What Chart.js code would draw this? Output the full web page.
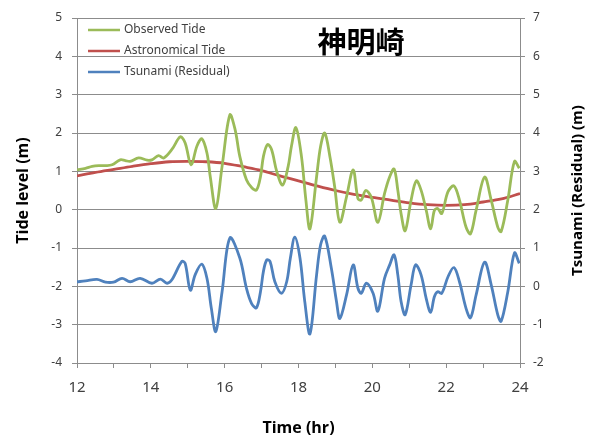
<!DOCTYPE html>
<html>
<head>
<meta charset="utf-8">
<script src="https://cdn.jsdelivr.net/npm/chart.js@4"></script>
<style>
  html, body { margin: 0; background: #fff; }
  #wrap { width: 595px; height: 439px; }
</style>
</head>
<body>
<div id="wrap"><canvas id="tideChart" width="595" height="439"></canvas></div>
<script>
/* 神明崎 tide record, 12-24 hr */
const CHART_TITLE = '神明崎';
const LABELS = ['Observed Tide', 'Astronomical Tide', 'Tsunami (Residual)'];

// observed tide (left axis, m)
const obsTimes = [12.0, 12.23, 12.41, 12.59, 12.77, 12.95, 13.17, 13.31, 13.44, 13.67, 13.9, 14.03, 14.21, 14.35, 14.57, 14.8, 14.93, 15.09, 15.25, 15.38, 15.52, 15.61, 15.76, 15.93,
  16.14, 16.28, 16.41, 16.59, 16.73, 16.86, 16.97, 17.05, 17.16, 17.27, 17.41, 17.57, 17.72, 17.81, 17.93, 18.08, 18.2, 18.31, 18.49, 18.6, 18.71, 18.85, 18.98, 19.12, 19.3, 19.48, 19.61, 19.7, 19.82, 19.97,
  20.15, 20.33, 20.47, 20.59, 20.69, 20.78, 20.89, 21.05, 21.19, 21.32, 21.46, 21.58, 21.68, 21.77, 21.88, 22.05, 22.21, 22.36, 22.54, 22.66, 22.81, 23.04, 23.22, 23.4, 23.49, 23.67, 23.85, 23.98];
const obsValues = [1.04, 1.08, 1.13, 1.15, 1.15, 1.17, 1.3, 1.28, 1.26, 1.35, 1.29, 1.3, 1.41, 1.35, 1.57, 1.9, 1.74, 1.17, 1.66, 1.85, 1.48, 0.86, 0.03, 1.13,
  2.47, 2.1, 1.39, 0.78, 0.58, 0.51, 0.86, 1.39, 1.7, 1.57, 1.0, 0.64, 1.13, 1.66, 2.14, 1.39, 0.25, -0.5, 0.86, 1.66, 2.0, 1.39, 0.6, -0.33, 0.33, 1.04, 0.29, 0.25, 0.5, 0.33,
  -0.33, 0.42, 0.86, 1.06, 0.51, -0.11, -0.55, 0.25, 0.75, 0.51, -0.02, -0.5, -0.02, 0.03, -0.1, 0.47, 0.62, 0.25, -0.46, -0.63, -0.02, 0.85, 0.25, -0.46, -0.57, 0.25, 1.26, 1.08];

// astronomical tide (left axis, m)
const astroTimes = [12, 12.5, 13, 13.5, 14, 14.5, 15, 15.5, 16, 16.5, 17, 17.5, 18, 18.5, 19, 19.5, 20, 20.5, 21, 21.5, 22, 22.5, 23, 23.5, 24];
const astroValues = [0.88, 0.97, 1.05, 1.13, 1.2, 1.25, 1.26, 1.25, 1.21, 1.12, 1.02, 0.88, 0.75, 0.62, 0.5, 0.4, 0.32, 0.25, 0.18, 0.13, 0.11, 0.13, 0.2, 0.28, 0.42];

// tsunami residual (right axis, m)
const residTimes = [12.0, 12.23, 12.54, 12.77, 12.99, 13.22, 13.44, 13.71, 14.03, 14.26, 14.44, 14.57, 14.84, 14.93, 15.07, 15.2, 15.38, 15.52, 15.64, 15.76, 15.93,
  16.14, 16.41, 16.59, 16.73, 16.86, 16.97, 17.05, 17.14, 17.23, 17.36, 17.54, 17.68, 17.78, 17.9, 18.04, 18.17, 18.31, 18.49, 18.6, 18.71, 18.89, 19.03, 19.12, 19.3, 19.48, 19.61, 19.7, 19.84, 20.02,
  20.15, 20.33, 20.47, 20.59, 20.69, 20.78, 20.89, 21.05, 21.17, 21.32, 21.46, 21.58, 21.68, 21.77, 21.88, 22.05, 22.21, 22.36, 22.54, 22.66, 22.81, 23.04, 23.22, 23.4, 23.49, 23.67, 23.85, 23.98];
const residValues = [0.12, 0.14, 0.18, 0.11, 0.11, 0.21, 0.12, 0.21, 0.08, 0.19, 0.08, 0.17, 0.65, 0.6, -0.1, 0.3, 0.58, 0.21, -0.58, -1.18, -0.14,
  1.26, 0.74, -0.05, -0.45, -0.56, -0.14, 0.39, 0.69, 0.65, 0.12, -0.18, 0.12, 0.74, 1.28, 0.74, -0.4, -1.24, 0.3, 1.09, 1.31, 0.47, -0.4, -0.84, -0.23, 0.56, -0.05, -0.18, 0.08, -0.18,
  -0.65, 0.21, 0.56, 0.82, 0.3, -0.4, -0.74, 0.04, 0.56, 0.3, -0.32, -0.68, -0.27, -0.14, -0.18, 0.25, 0.49, 0.12, -0.58, -0.82, -0.23, 0.63, 0.04, -0.75, -0.91, -0.14, 0.87, 0.6];

const COLORS = ['#9bbb59', '#c0504d', '#4f81bd'];
const GRID = '#8c8c8c';
const TEXT = '#404040';

const toXY = (ts, vs) => ts.map((t, i) => ({ x: t, y: vs[i] }));

// titles + in-plot legend drawn by hand (Excel style)
const decorPlugin = {
  id: 'decor',
  afterDraw(chart) {
    const { ctx, chartArea: a } = chart;
    ctx.save();
    ctx.fillStyle = '#000';
    ctx.textAlign = 'center';
    ctx.textBaseline = 'middle';

    ctx.font = "bold 29px 'Noto Sans CJK JP'";
    ctx.fillText(CHART_TITLE, 361, 42);

    ctx.font = "bold 16px 'Open Sans'";
    ctx.fillText('Time (hr)', (a.left + a.right) / 2, 428);

    const midY = (a.top + a.bottom) / 2;
    ctx.translate(23, midY);
    ctx.rotate(-Math.PI / 2);
    ctx.fillText('Tide level (m)', 0, 0);
    ctx.restore();

    ctx.save();
    ctx.fillStyle = '#000';
    ctx.textAlign = 'center';
    ctx.textBaseline = 'middle';
    ctx.font = "bold 15px 'Open Sans'";
    ctx.translate(578, midY);
    ctx.rotate(-Math.PI / 2);
    ctx.fillText('Tsunami (Residual) (m)', 0, 0);
    ctx.restore();

    // legend
    ctx.save();
    ctx.font = "12px 'Noto Sans'";
    ctx.textAlign = 'left';
    ctx.textBaseline = 'middle';
    LABELS.forEach((lbl, i) => {
      const y = 30 + i * 21;
      ctx.strokeStyle = COLORS[i];
      ctx.lineWidth = 2.5;
      ctx.beginPath();
      ctx.moveTo(88, y);
      ctx.lineTo(120, y);
      ctx.stroke();
      ctx.fillStyle = TEXT;
      ctx.fillText(lbl, 124, y);
    });
    ctx.restore();
  }
};

const lineStyle = (color) => ({
  borderColor: color,
  backgroundColor: color,
  borderWidth: 2.8,
  pointRadius: 0,
  tension: 0.35,
  fill: false,
});

new Chart(document.getElementById('tideChart'), {
  type: 'line',
  data: {
    datasets: [
      { label: LABELS[0], data: toXY(obsTimes, obsValues), yAxisID: 'y', ...lineStyle(COLORS[0]) },
      { label: LABELS[1], data: toXY(astroTimes, astroValues), yAxisID: 'y', ...lineStyle(COLORS[1]) },
      { label: LABELS[2], data: toXY(residTimes, residValues), yAxisID: 'y2', ...lineStyle(COLORS[2]) },
    ],
  },
  options: {
    responsive: false,
    animation: false,
    layout: { padding: { top: 18, left: 0, right: 0, bottom: 0 } },
    plugins: { legend: { display: false }, tooltip: { enabled: false } },
    scales: {
      x: {
        type: 'linear',
        min: 12, max: 24,
        afterFit: s => { s.height = 76; },
        ticks: {
          stepSize: 1, padding: 11, color: TEXT,
          font: { family: "'Noto Sans'", size: 15 },
          callback: v => (v % 2 === 0 ? v : ''),
        },
        grid: { drawOnChartArea: false, tickLength: 5, color: GRID },
        border: { color: GRID },
      },
      y: {
        position: 'left',
        min: -4, max: 5,
        afterFit: s => { s.width = 77; },
        ticks: { stepSize: 1, padding: 10, color: TEXT, font: { family: "'Noto Sans'", size: 12 } },
        grid: { color: GRID, tickLength: 5 },
        border: { color: GRID },
      },
      y2: {
        position: 'right',
        min: -2, max: 7,
        afterFit: s => { s.width = 75; },
        ticks: { stepSize: 1, padding: 8, color: TEXT, font: { family: "'Noto Sans'", size: 12 } },
        grid: { drawOnChartArea: false, tickLength: 5, color: GRID },
        border: { color: GRID },
      },
    },
  },
  plugins: [decorPlugin],
});
</script>
</body>
</html>
